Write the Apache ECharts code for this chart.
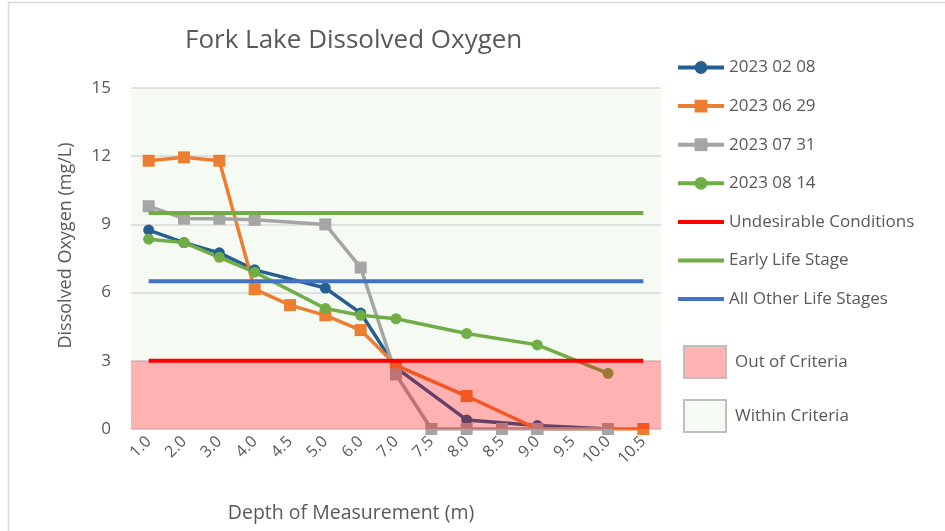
<!DOCTYPE html>
<html>
<head>
<meta charset="utf-8">
<script src="https://cdn.jsdelivr.net/npm/echarts@6/dist/echarts.min.js"></script>
<style>
  html, body { margin: 0; padding: 0; background: #fff; }
  #chart { width: 945px; height: 531px; }
</style>
</head>
<body>
<div id="chart"></div>
<script>
// depth categories (m)
const depths = ["1.0", "2.0", "3.0", "4.0", "4.5", "5.0", "6.0", "7.0", "7.5", "8.0", "8.5", "9.0", "9.5", "10.0", "10.5"];
const yTicks = [0, 3, 6, 9, 12, 15];

// dissolved oxygen (mg/L) per sampling date, null = not measured
const do20230208 = [8.75, 8.2, 7.75, 7.0, null, 6.2, 5.1, 2.7, null, 0.4, null, 0.15, null, 0.0, null];
const do20230629 = [11.8, 11.95, 11.8, 6.15, 5.45, 5.0, 4.35, 2.8, null, 1.45, null, 0.0, null, 0.0, 0.0];
const do20230731 = [9.8, 9.25, 9.25, 9.2, null, 9.0, 7.1, 2.4, 0.0, 0.0, 0.0, 0.0, null, 0.0, null];
const do20230814 = [8.35, 8.2, 7.55, 6.9, null, 5.3, 5.0, 4.85, null, 4.2, null, 3.7, null, 2.45, null];

// criteria levels (mg/L)
const undesirable = 3;
const earlyLife = 9.5;
const otherLife = 6.5;

const textColor = "#595959";
const font = "Open Sans";

const myChart = echarts.init(document.getElementById("chart"));

function dataSeries(name, data, color, symbol) {
  return {
    name: name,
    type: "line",
    data: data,
    connectNulls: true,
    symbol: symbol,
    symbolSize: symbol === "circle" ? 11 : 12,
    color: color,
    lineStyle: { width: 3.5, color: color },
    itemStyle: { color: color },
    z: 2,
  };
}

function levelSeries(name, value, color) {
  return {
    name: name,
    type: "line",
    data: [[depths[0], value], [depths[depths.length - 1], value]],
    showSymbol: false,
    symbol: "none",
    color: color,
    lineStyle: { width: 4, color: color },
    itemStyle: { color: color },
    z: 4,
  };
}

//图例中的水平线不要标记点
const noMark = { itemStyle: { opacity: 0 } };

let option = {
  animation: false,
  graphic: [
    {
      type: "rect",
      shape: { x: 8.5, y: 2.5, width: 1000, height: 600 },
      style: { fill: "none", stroke: "#D9D9D9", lineWidth: 1.5 },
      silent: true,
    },
  ],
  title: {
    text: "Fork Lake Dissolved Oxygen",
    left: 180,
    top: 23,
    textStyle: { color: textColor, fontSize: 26, fontWeight: "normal", fontFamily: font },
  },
  grid: { left: 131, right: 284, top: 88, bottom: 102 },
  legend: [
    {
      orient: "vertical",
      left: 676,
      top: 59,
      padding: 0,
      itemWidth: 46,
      itemHeight: 16,
      itemGap: 21.6,
      lineStyle: { width: 4 },
      textStyle: { color: textColor, fontSize: 17, fontFamily: font },
      data: [
        "2023 02 08",
        "2023 06 29",
        "2023 07 31",
        "2023 08 14",
        Object.assign({ name: "Undesirable Conditions" }, noMark),
        Object.assign({ name: "Early Life Stage" }, noMark),
        Object.assign({ name: "All Other Life Stages" }, noMark),
      ],
    },
    {
      orient: "vertical",
      left: 683,
      top: 345,
      padding: 0,
      icon: "rect",
      itemWidth: 42,
      itemHeight: 32,
      itemGap: 20,
      textStyle: { color: textColor, fontSize: 17, fontFamily: font, padding: [0, 0, 0, 4] },
      data: [
        { name: "Out of Criteria", itemStyle: { color: "#FFB3B3", borderColor: "#BFBFBF", borderWidth: 2 } },
        { name: "Within Criteria", itemStyle: { color: "#F5FAF3", borderColor: "#BFBFBF", borderWidth: 2 } },
      ],
    },
  ],
  xAxis: {
    type: "category",
    data: depths,
    boundaryGap: true,
    name: "Depth of Measurement (m)",
    nameLocation: "middle",
    nameGap: 74,
    nameTextStyle: { color: textColor, fontSize: 19.5, fontFamily: font, padding: [0, 90, 0, 0] },
    axisLine: { lineStyle: { color: "#D9D9D9" } },
    axisTick: { show: false },
    axisLabel: { color: textColor, fontSize: 16, fontFamily: font, rotate: 45, interval: 0, margin: 10 },
  },
  yAxis: {
    type: "value",
    min: yTicks[0],
    max: yTicks[yTicks.length - 1],
    interval: 3,
    z: 1,
    name: "Dissolved Oxygen (mg/L)",
    nameLocation: "middle",
    nameGap: 56,
    nameTextStyle: { color: textColor, fontSize: 18, fontFamily: font, padding: [0, 0, 0, 26] },
    axisLine: { show: false },
    axisTick: { show: false },
    axisLabel: { color: textColor, fontSize: 17, fontFamily: font, margin: 20 },
    splitLine: { lineStyle: { color: "#D9D9D9", width: 1.5 } },
  },
  series: [
    dataSeries("2023 02 08", do20230208, "#255E91", "circle"),
    dataSeries("2023 06 29", do20230629, "#ED7D31", "rect"),
    dataSeries("2023 07 31", do20230731, "#A5A5A5", "rect"),
    dataSeries("2023 08 14", do20230814, "#70AD47", "circle"),
    levelSeries("Undesirable Conditions", undesirable, "#FF0000"),
    levelSeries("Early Life Stage", earlyLife, "#70AD47"),
    levelSeries("All Other Life Stages", otherLife, "#4472C4"),
    {
      name: "Out of Criteria",
      type: "line",
      data: [],
      color: "#FFB3B3",
      itemStyle: { color: "#FFB3B3" },
      z: 3,
      markArea: {
        silent: true,
        z: 3,
        itemStyle: { color: "rgba(255, 0, 0, 0.3)" },
        data: [[{ yAxis: 0 }, { yAxis: undesirable }]],
      },
    },
    {
      name: "Within Criteria",
      type: "line",
      data: [],
      color: "#F5FAF3",
      itemStyle: { color: "#F5FAF3" },
      z: 0,
      markArea: {
        silent: true,
        z: 0,
        itemStyle: { color: "#F5FAF3" },
        data: [[{ yAxis: undesirable }, { yAxis: yTicks[yTicks.length - 1] }]],
      },
    },
  ],
};

myChart.setOption(option);
</script>
</body>
</html>
